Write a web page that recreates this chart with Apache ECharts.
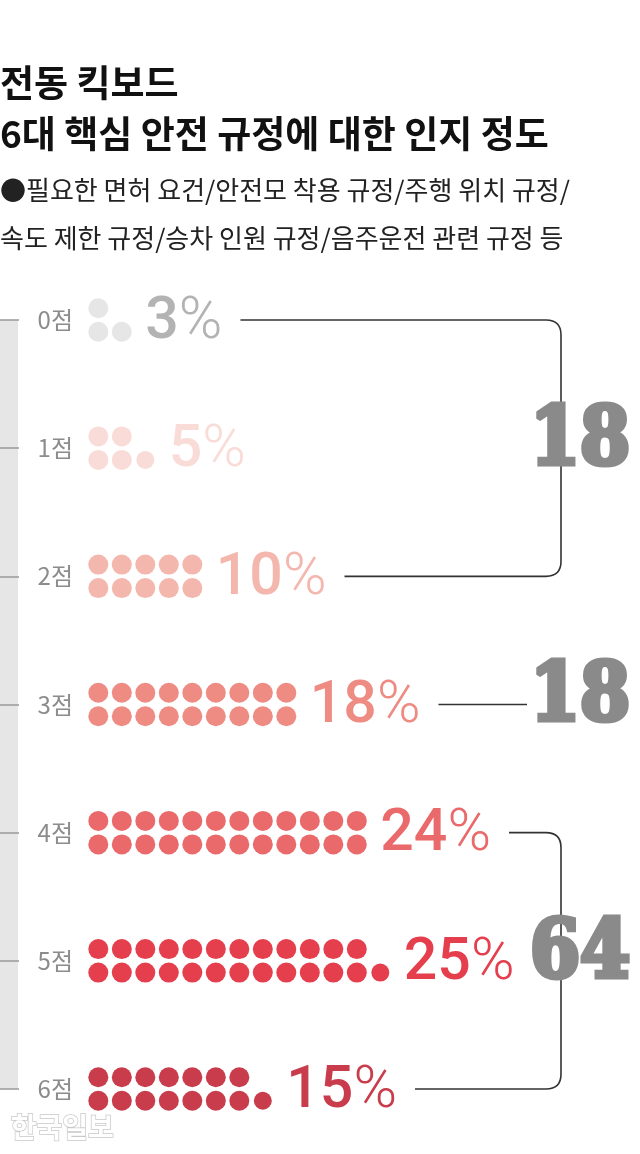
<!DOCTYPE html>
<html><head><meta charset="utf-8">
<script src="https://cdn.jsdelivr.net/npm/echarts@6/dist/echarts.min.js"></script>
<style>html,body{margin:0;padding:0;background:#fff}#c{width:640px;height:1154px}</style>
</head><body><div id="c"></div>
<script>
const categories = ['0점','1점','2점','3점','4점','5점','6점'];
const percents = [3, 5, 10, 18, 24, 25, 15];
const dotColors = ['#e6e6e6','#f9dcd7','#f4b7ae','#ee8b83','#ea696b','#e53e4d','#c83c4b'];
const labelColors = ['#b3b3b3','#f9dcd7','#f4b7ae','#ee8b83','#ea696b','#e53e4d','#c83c4b'];
const groupStart = [0, 3, 4];
const groupEnd = [2, 3, 6];
const groupTotals = [18, 18, 64];
const titleText = '전동 킥보드\n6대 핵심 안전 규정에 대한 인지 정도';
const subtitleText = '●필요한 면허 요건/안전모 착용 규정/주행 위치 규정/\n속도 제한 규정/승차 인원 규정/음주운전 관련 규정 등';
const sourceText = '한국일보';

const CJK = '"Noto Sans CJK KR","Noto Sans",sans-serif';
const NUMFONT = 'Roboto, "Noto Sans", sans-serif';
const NUM_SIZE = 59;

function topCount(p){ return Math.floor(p / 2); }
function bottomCount(p){ return p - Math.floor(p / 2); }

// dots
const dotData = [];
percents.forEach((p, i) => {
  const t = topCount(p), b = bottomCount(p);
  for (let c = 0; c < t; c++) {
    dotData.push({ value: [c, i], symbolSize: 20, symbolOffset: [0, -11.75], itemStyle: { color: dotColors[i], opacity: 1 } });
  }
  for (let c = 0; c < b; c++) {
    const small = (p % 2 === 1 && c === b - 1 && p > 3);
    dotData.push({ value: [c, i], symbolSize: small ? 18 : 20, symbolOffset: [0, 11.75], itemStyle: { color: dotColors[i], opacity: 1 } });
  }
});

// percent labels
const labelData = percents.map((p, i) => ({
  value: [bottomCount(p), i],
  label: {
    show: true, position: 'inside', align: 'left', verticalAlign: 'middle', offset: [0, 3],
    formatter: '{n|' + p + '}{p|%}',
    rich: {
      n: { fontFamily: NUMFONT, fontWeight: 500, fontSize: NUM_SIZE, color: labelColors[i] },
      p: { fontFamily: NUMFONT, fontWeight: 300, fontSize: NUM_SIZE, color: labelColors[i] }
    }
  }
}));

const mctx = document.createElement('canvas').getContext('2d');
function labelWidth(p) {
  mctx.font = '500 ' + NUM_SIZE + 'px ' + NUMFONT;
  let w = mctx.measureText(String(p)).width;
  mctx.font = '300 ' + NUM_SIZE + 'px ' + NUMFONT;
  w += mctx.measureText('%').width;
  return w;
}
function lineStartX(api, idx) {
  const pt = api.coord([bottomCount(percents[idx]), idx]);
  return pt[0] + labelWidth(percents[idx]) + 18;
}

function renderBracket(params, api) {
  const i = params.dataIndex;
  const s = groupStart[i], e = groupEnd[i];
  const vx = api.getWidth() - 79;
  const r = 15;
  const xs = lineStartX(api, s), ys = api.coord([0, s])[1];
  const children = [];
  let midY;
  if (s === e) {
    children.push({ type: 'line', shape: { x1: xs, y1: ys, x2: vx - 34, y2: ys }, style: { stroke: '#333', lineWidth: 1.6 } });
    midY = ys;
  } else {
    const xe = lineStartX(api, e), ye = api.coord([0, e])[1];
    const d = 'M' + xs + ' ' + ys + ' L' + (vx - r) + ' ' + ys + ' Q' + vx + ' ' + ys + ' ' + vx + ' ' + (ys + r) +
      ' L' + vx + ' ' + (ye - r) + ' Q' + vx + ' ' + ye + ' ' + (vx - r) + ' ' + ye + ' L' + xe + ' ' + ye;
    children.push({ type: 'path', shape: { pathData: d }, style: { stroke: '#333', fill: 'none', lineWidth: 1.6 } });
    midY = (ys + ye) / 2;
  }
  children.push({
    type: 'text',
    style: {
      text: String(groupTotals[i]), x: vx - 31, y: midY - 5, align: 'left', verticalAlign: 'middle',
      font: 'bold 80px "DejaVu Serif Condensed","DejaVu Serif",serif', fill: '#8a8a8a', stroke: '#8a8a8a', lineWidth: 5,
      lineJoin: 'round'
    }
  });
  return { type: 'group', children };
}

const chart = echarts.init(document.getElementById('c'), null, { renderer: 'canvas' });
chart.setOption({
  animation: false,
  backgroundColor: '#fff',
  title: [
    { text: titleText, left: 0, top: 57, padding: 0,
      textStyle: { fontFamily: CJK, fontWeight: 'bold', fontSize: 37, lineHeight: 51, color: '#111' } },
    { text: subtitleText, left: 0, top: 166, padding: 0,
      textStyle: { fontFamily: CJK, fontWeight: 'normal', fontSize: 26, lineHeight: 48, color: '#222' } }
  ],
  grid: { left: 0, right: 0, top: 320, bottom: 65, containLabel: false },
  xAxis: { type: 'value', min: -4.183, max: 23.05, show: false },
  yAxis: {
    type: 'category', data: categories, inverse: true, boundaryGap: false,
    axisLine: { show: true, onZero: false, lineStyle: { color: '#e6e6e6', width: 36, cap: 'butt' } },
    axisTick: { show: true, inside: true, length: 19, lineStyle: { color: '#999', width: 1.5 } },
    axisLabel: { show: true, margin: -73, align: 'right', fontFamily: CJK, fontSize: 24, color: '#8c8c8c' },
    splitLine: { show: false }
  },
  graphic: [{
    type: 'text', left: 10, top: 1113,
    style: { text: sourceText, font: 'bold 28px ' + CJK, fill: '#fff', stroke: '#c8c8c8', lineWidth: 1.5 }
  }],
  series: [
    { type: 'scatter', data: dotData, symbol: 'circle', clip: false, silent: true, itemStyle: { opacity: 1 } },
    { type: 'scatter', data: labelData, symbolSize: 1, itemStyle: { color: 'rgba(0,0,0,0)', opacity: 1 }, clip: false, silent: true },
    { type: 'custom', data: groupTotals.map((t, i) => [groupStart[i], groupEnd[i], t]), renderItem: renderBracket, clip: false, silent: true, z: 5 }
  ]
});
</script></body></html>
